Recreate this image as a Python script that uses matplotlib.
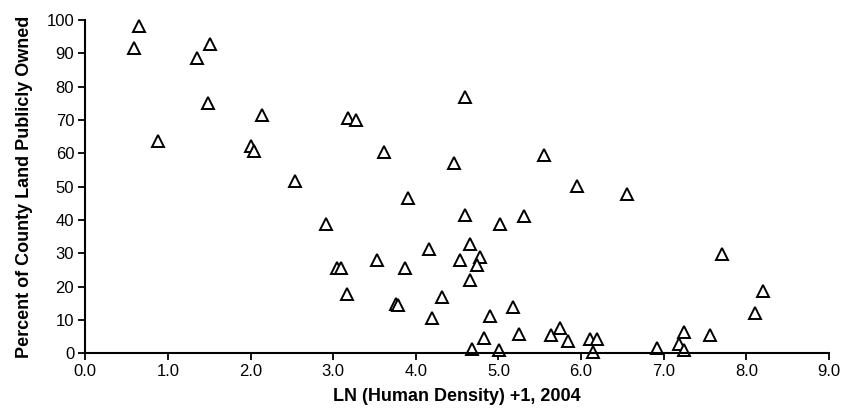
import matplotlib.pyplot as plt
from matplotlib.ticker import FormatStrFormatter

plt.rcParams["font.family"] = ["Liberation Sans", "DejaVu Sans"]

# LN(human density)+1 vs percent of county land publicly owned
density = [0.65, 0.59, 1.35, 1.51, 1.48, 0.88, 2.14, 2.00, 2.04, 2.54,
           3.18, 3.27, 4.59, 3.61, 4.46, 5.55, 5.95, 3.91, 6.55,
           2.91, 3.04, 3.09, 3.17,
           4.59, 5.02, 5.31, 4.65, 4.16, 3.53, 3.87, 4.53, 4.78, 4.74,
           4.66, 3.76, 3.78, 4.32, 4.19, 5.17, 4.90, 4.82, 5.25, 4.68,
           5.01, 5.63, 5.75, 5.84, 6.11, 6.19, 6.14,
           7.71, 8.20, 8.11, 7.24, 7.56, 7.18, 7.25, 6.92]
public_pct = [98.2, 91.7, 88.5, 92.7, 75.2, 63.6, 71.4, 62.3, 60.7, 51.7,
              70.5, 69.9, 76.9, 60.5, 57.2, 59.5, 50.1, 46.5, 47.8,
              38.8, 25.7, 25.7, 17.6,
              41.6, 38.8, 41.3, 32.7, 31.2, 27.9, 25.7, 27.9, 28.9, 26.5,
              21.9, 14.6, 14.3, 16.7, 10.5, 13.9, 11.1, 4.4, 5.6, 1.3,
              0.9, 5.4, 7.4, 3.6, 4.1, 4.1, 0.4,
              29.9, 18.7, 12.0, 6.4, 5.4, 2.8, 0.8, 1.6]

fig = plt.figure(figsize=(8.45, 4.12), dpi=100)
ax = fig.add_axes([0.101, 0.143, 0.880, 0.808])

ax.plot(density, public_pct, linestyle="none", marker="^", markersize=8,
        markerfacecolor="white", markeredgecolor="black", markeredgewidth=1.4,
        clip_on=False)

ax.set_xlim(0, 9)
ax.set_ylim(0, 100)
ax.set_xticks(range(0, 10))
ax.set_yticks(range(0, 101, 10))
ax.xaxis.set_major_formatter(FormatStrFormatter("%.1f"))

for side in ["top", "right"]:
    ax.spines[side].set_visible(False)
for side in ["left", "bottom"]:
    ax.spines[side].set_linewidth(1.5)

ax.tick_params(direction="out", length=5, width=1.3, labelsize=12, pad=3)

ax.set_xlabel("LN (Human Density) +1, 2004", fontsize=13, fontweight="bold", labelpad=6)
ax.set_ylabel("Percent of County Land Publicly Owned", fontsize=13, fontweight="bold", labelpad=10)

plt.savefig("out.png", dpi=100, facecolor="white")
